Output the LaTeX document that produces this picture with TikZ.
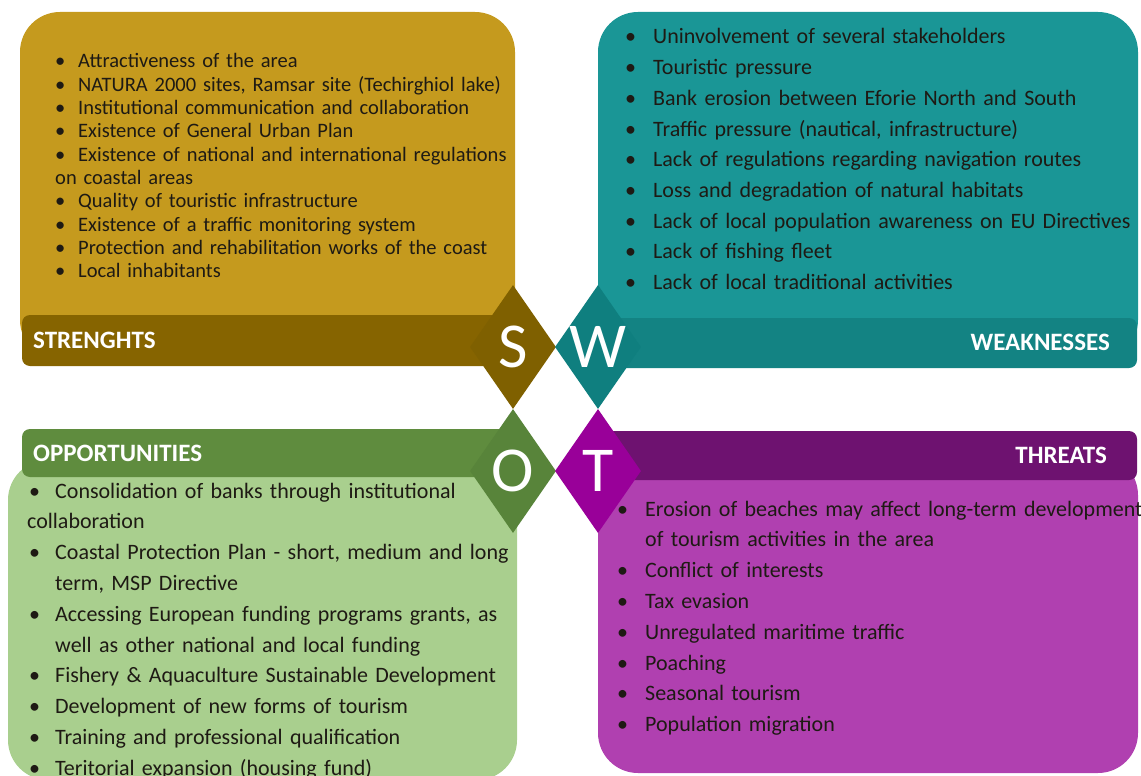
\documentclass[tikz,border=0pt]{standalone}
\usepackage{fontspec}
\setmainfont{Carlito}
\usetikzlibrary{shapes.geometric}
\definecolor{sBox}{HTML}{C59A1E}
\definecolor{sBand}{HTML}{866400}
\definecolor{sDia}{HTML}{7F6000}
\definecolor{wBox}{HTML}{1A9696}
\definecolor{wBand}{HTML}{138383}
\definecolor{wDia}{HTML}{0F7F7F}
\definecolor{oBox}{HTML}{A9CF8E}
\definecolor{oBand}{HTML}{5F8C3E}
\definecolor{oDia}{HTML}{58843A}
\definecolor{tBox}{HTML}{B040B0}
\definecolor{tBand}{HTML}{6E1270}
\definecolor{tDia}{HTML}{990099}
\definecolor{qText}{HTML}{1E1A14}
\newlength{\bulw}
\newcommand{\itm}{\makebox[\bulw][l]{\textbullet}}
\newcommand{\hang}{\hspace*{\bulw}}
\tikzset{
  qbox/.style={rounded corners=40pt},
  qband/.style={rounded corners=8pt},
  qlist/.style={anchor=base west,align=left,inner sep=0pt,text=qText,text width=#1},
  qtitle/.style={font=\fontsize{25}{25}\selectfont\bfseries,text=white,inner sep=0pt},
  qdia/.style={diamond,aspect=0.7,minimum width=86pt,minimum height=124pt,inner sep=0pt,
    text=white,font=\fontsize{64}{64}\selectfont},
}

\begin{document}
\begin{tikzpicture}[x=1pt,y=-1pt]
\useasboundingbox (0,0) rectangle (1141,776);
\clip (0,0) rectangle (1141,776);
% quadrant boxes
\fill[qbox,sBox] (20,12) rectangle (515,360);
\fill[qbox,wBox] (598,12) rectangle (1138,360);
\fill[qbox,oBox] (8,460) rectangle (517,780);
\fill[qbox,tBox] (598,455) rectangle (1138,773);
% title bands
\fill[qband,sBand] (22,315) rectangle (515,366);
\fill[qband,wBand] (598,318) rectangle (1137,368);
\fill[qband,oBand] (22,429) rectangle (515,477);
\fill[qband,tBand] (598,431) rectangle (1137,480);
\node[qtitle,anchor=base west] (sTitle) at (33,348) {STRENGHTS};
\node[qtitle,anchor=base east] (wTitle) at (1110,350) {WEAKNESSES};
\node[qtitle,anchor=base west] (oTitle) at (33,461) {OPPORTUNITIES};
\node[qtitle,anchor=base east] (tTitle) at (1107,463) {THREATS};
% lists
\node[qlist=470pt,font=\fontsize{20.5}{23.3}\selectfont\setlength{\bulw}{23pt}] (sList) at (55,68) {%
  \itm Attractiveness of the area\\
  \itm NATURA 2000 sites, Ramsar site (Techirghiol lake)\\
  \itm Institutional communication and collaboration\\
  \itm Existence of General Urban Plan\\
  \itm Existence of national and international regulations\\
  on coastal areas\\
  \itm Quality of touristic infrastructure\\
  \itm Existence of a traffic monitoring system\\
  \itm Protection and rehabilitation works of the coast\\
  \itm Local inhabitants};
\node[qlist=510pt,font=\fontsize{22}{30.7}\selectfont\setlength{\bulw}{28pt}] (wList) at (625,44) {%
  \itm Uninvolvement of several stakeholders\\
  \itm Touristic pressure\\
  \itm Bank erosion between Eforie North and South\\
  \itm Traffic pressure (nautical, infrastructure)\\
  \itm Lack of regulations regarding navigation routes\\
  \itm Loss and degradation of natural habitats\\
  \itm Lack of local population awareness on EU Directives\\
  \itm Lack of fishing fleet\\
  \itm Lack of local traditional activities};
\node[qlist=500pt,font=\fontsize{22}{30.8}\selectfont\setlength{\bulw}{26pt}] (oList) at (29,498) {%
  \itm Consolidation of banks through institutional\\
  \hspace*{-2pt}collaboration\\
  \itm Coastal Protection Plan - short, medium and long\\
  \hang term, MSP Directive\\
  \itm Accessing European funding programs grants, as\\
  \hang well as other national and local funding\\
  \itm Fishery \& Aquaculture Sustainable Development\\
  \itm Development of new forms of tourism\\
  \itm Training and professional qualification\\
  \itm Teritorial expansion (housing fund)};
\node[qlist=530pt,font=\fontsize{22}{30.8}\selectfont\setlength{\bulw}{28pt}] (tList) at (617,516) {%
  \itm Erosion of beaches may affect long-term development\\
  \hang of tourism activities in the area\\
  \itm Conflict of interests\\
  \itm Tax evasion\\
  \itm Unregulated maritime traffic\\
  \itm Poaching\\
  \itm Seasonal tourism\\
  \itm Population migration};
% the four letter diamonds
\foreach \n/\x/\y/\c in {S/513/347/sDia,W/598/347/wDia,O/513/471/oDia,T/598/471/tDia}{
  \node[qdia,fill=\c] (dia\n) at (\x,\y) {\n};}
\end{tikzpicture}
\end{document}
